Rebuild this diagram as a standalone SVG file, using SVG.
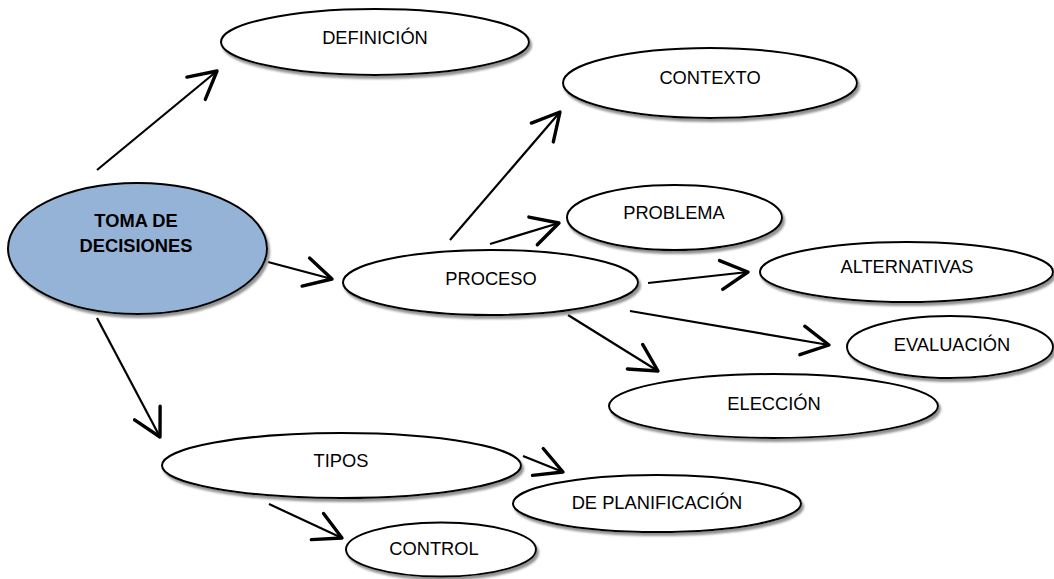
<svg xmlns="http://www.w3.org/2000/svg" width="1054" height="579" viewBox="0 0 1054 579">
<style>
.node ellipse{fill:#fff;stroke:#000;stroke-width:2;filter:url(#sh)}
.node.main ellipse{fill:#95b3d7}
.node text{font-family:"Liberation Sans",Arial,sans-serif;font-size:18.3px;fill:#000;text-anchor:middle}
.node.main text{font-weight:bold}
#connectors line{stroke:#000;stroke-width:2.2;fill:none;marker-end:url(#arr)}
</style>
<defs>
<filter id="sh" x="-10%" y="-10%" width="125%" height="135%">
<feDropShadow dx="2" dy="3" stdDeviation="1" flood-color="#7f7f7f" flood-opacity="0.85"/>
</filter>
<marker id="arr" markerUnits="userSpaceOnUse" markerWidth="40" markerHeight="40" viewBox="-22 -12 26 24" refX="0" refY="0" orient="auto" overflow="visible">
<path d="M-17.6,-9.4 L0,0 L-17.6,9.4" fill="none" stroke="#000" stroke-width="2.2" stroke-linejoin="round" stroke-linecap="round"/>
</marker>
</defs>
<rect width="1054" height="579" fill="#fff"/>
<g id="connectors">
<line x1="97" y1="170" x2="217" y2="71"/>
<line x1="268" y1="262" x2="332" y2="279"/>
<line x1="97" y1="318" x2="160" y2="437"/>
<line x1="450" y1="240" x2="560" y2="112"/>
<line x1="490" y1="244" x2="559" y2="223"/>
<line x1="648" y1="283" x2="748" y2="272"/>
<line x1="630" y1="311" x2="829" y2="345"/>
<line x1="568" y1="315" x2="658" y2="371"/>
<line x1="523" y1="456" x2="563" y2="472"/>
<line x1="269" y1="504" x2="342" y2="538"/>
</g>
<g id="toma" class="node main">
<ellipse cx="137.5" cy="248.5" rx="129.5" ry="65.5"/>
<text x="136" y="227">TOMA DE</text>
<text x="136" y="252">DECISIONES</text>
</g>
<g id="definicion" class="node">
<ellipse cx="375" cy="42" rx="154" ry="33"/>
<text x="375" y="44">DEFINICIÓN</text>
</g>
<g id="contexto" class="node">
<ellipse cx="710" cy="83" rx="147" ry="35"/>
<text x="710" y="84">CONTEXTO</text>
</g>
<g id="problema" class="node">
<ellipse cx="674.5" cy="217.5" rx="107.5" ry="32.5"/>
<text x="674" y="219">PROBLEMA</text>
</g>
<g id="proceso" class="node">
<ellipse cx="490.5" cy="282.5" rx="147.5" ry="32.5"/>
<text x="491" y="285">PROCESO</text>
</g>
<g id="alternativas" class="node">
<ellipse cx="906.5" cy="272" rx="146.5" ry="30"/>
<text x="907" y="273">ALTERNATIVAS</text>
</g>
<g id="evaluacion" class="node">
<ellipse cx="950" cy="347" rx="103" ry="31"/>
<text x="952" y="351">EVALUACIÓN</text>
</g>
<g id="eleccion" class="node">
<ellipse cx="773.5" cy="406" rx="164.5" ry="32"/>
<text x="774" y="410">ELECCIÓN</text>
</g>
<g id="tipos" class="node">
<ellipse cx="341.5" cy="465.5" rx="179.5" ry="32.5"/>
<text x="341" y="467">TIPOS</text>
</g>
<g id="planificacion" class="node">
<ellipse cx="657" cy="503.5" rx="144" ry="28.5"/>
<text x="657" y="509">DE PLANIFICACIÓN</text>
</g>
<g id="control" class="node">
<ellipse cx="441" cy="549.5" rx="95" ry="27"/>
<text x="434" y="555">CONTROL</text>
</g>
</svg>
